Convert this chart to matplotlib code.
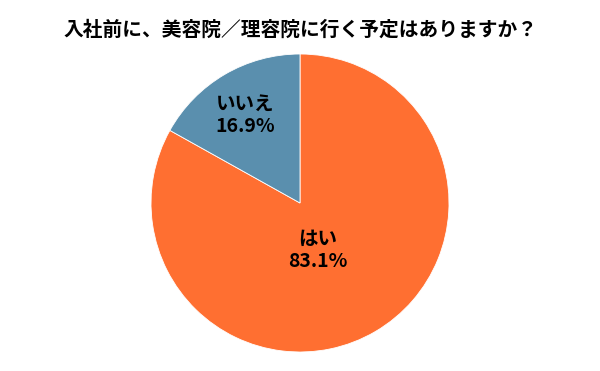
import matplotlib
matplotlib.use("Agg")
import matplotlib.pyplot as plt

plt.rcParams['font.family'] = ['Noto Sans CJK JP', 'DejaVu Sans']

title = "入社前に、美容院／理容院に行く予定はありますか？"
labels = ["はい", "いいえ"]
values = [83.1, 16.9]
colors = ["#FF6F31", "#5A8FAE"]
# label positions in axes units (relative to pie centre)
label_pos = [(0.12, -0.32), (-0.37, 0.59)]

fig = plt.figure(figsize=(6, 3.71), dpi=100)
r = 149
ax = fig.add_axes([(300 - r) / 600, (168 - r) / 371, 2 * r / 600, 2 * r / 371])
ax.pie(values, colors=colors, startangle=90, counterclock=False,
       wedgeprops=dict(linewidth=0.6, edgecolor="white"))
ax.set_xlim(-1, 1)
ax.set_ylim(-1, 1)
ax.set_aspect("equal")

for lab, v, (x, y) in zip(labels, values, label_pos):
    ax.text(x, y, f"{lab}\n{v:.1f}%", ha="center", va="center",
            fontsize=14, fontweight="bold", linespacing=1.2, color="#000000")

fig.text(0.5, 1 - 30 / 371, title, ha="center", va="center",
         fontsize=14.2, fontweight="bold", color="#000000")

fig.savefig("out.png", dpi=100)
